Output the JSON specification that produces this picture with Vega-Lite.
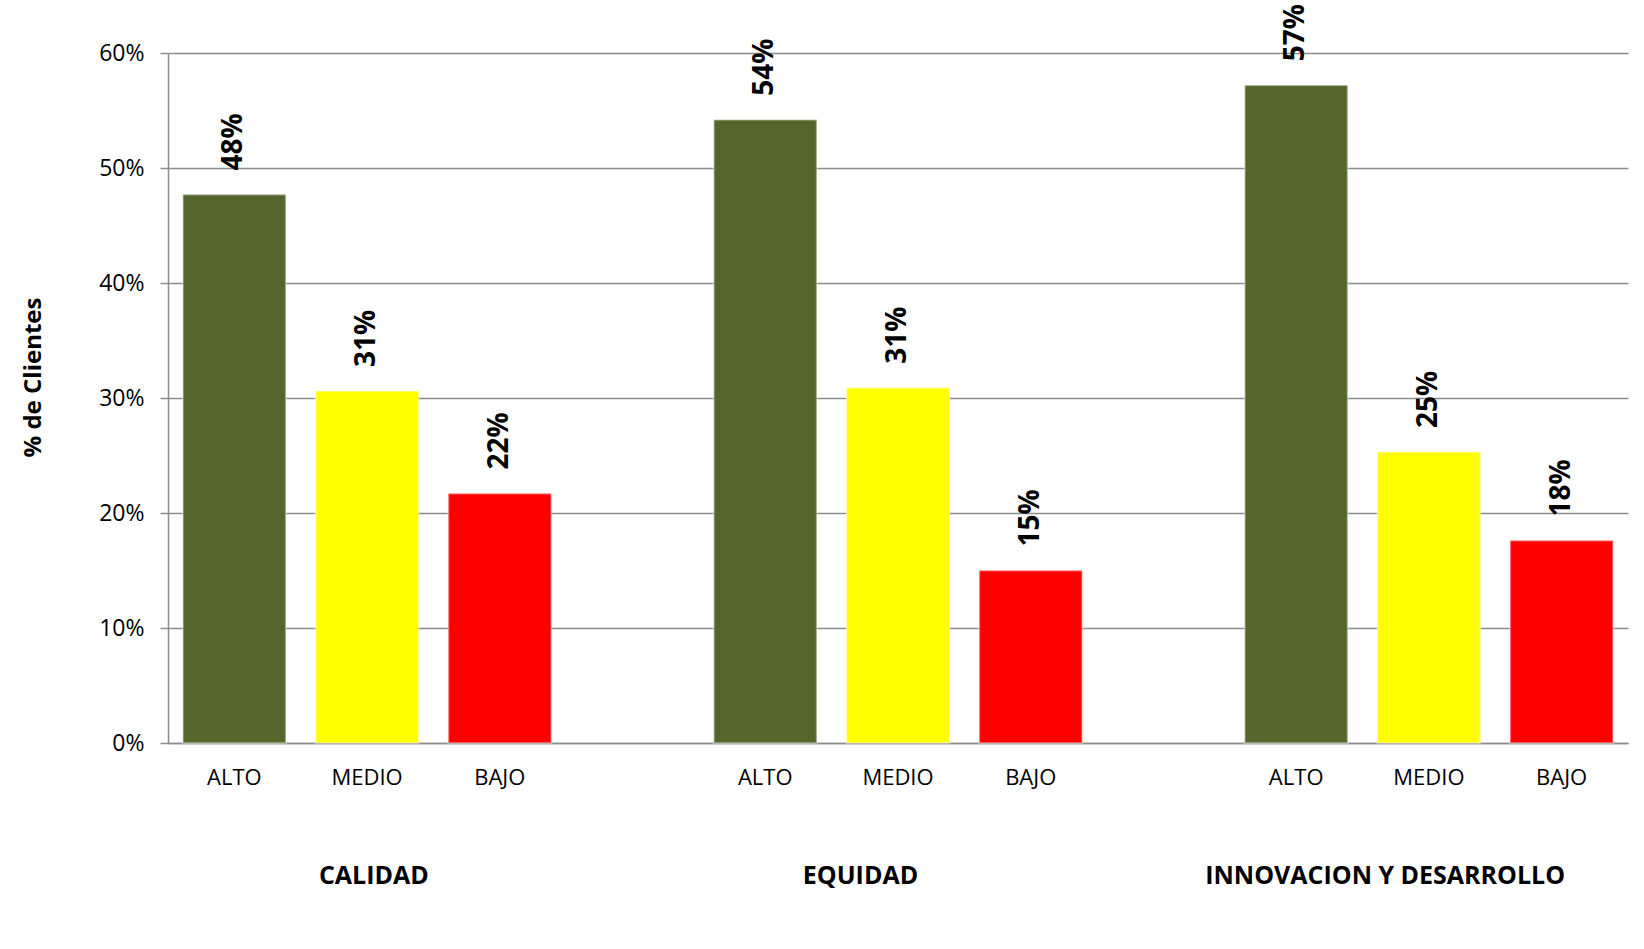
{
  "$schema": "https://vega.github.io/schema/vega-lite/v6.json",
  "width": 1460,
  "height": 690,
  "autosize": {"type": "none"},
  "padding": {"left": 168, "top": 53, "right": 16, "bottom": 206},
  "background": "white",
  "config": {
    "view": {"stroke": null},
    "font": "Open Sans",
    "axis": {
      "domainColor": "#8c8c8c",
      "domainWidth": 1.5,
      "gridColor": "#8c8c8c",
      "gridWidth": 1.5,
      "tickColor": "#8c8c8c",
      "tickWidth": 1.5,
      "labelColor": "#000000",
      "labelFont": "Open Sans",
      "titleColor": "#000000",
      "titleFont": "Open Sans"
    }
  },
  "datasets": {
    "barras": [
      {"grupo": "CALIDAD", "nivel": "ALTO", "cat": "CALIDAD-ALTO", "valor": 0.477},
      {"grupo": "CALIDAD", "nivel": "MEDIO", "cat": "CALIDAD-MEDIO", "valor": 0.306},
      {"grupo": "CALIDAD", "nivel": "BAJO", "cat": "CALIDAD-BAJO", "valor": 0.217},
      {"grupo": "EQUIDAD", "nivel": "ALTO", "cat": "EQUIDAD-ALTO", "valor": 0.542},
      {"grupo": "EQUIDAD", "nivel": "MEDIO", "cat": "EQUIDAD-MEDIO", "valor": 0.309},
      {"grupo": "EQUIDAD", "nivel": "BAJO", "cat": "EQUIDAD-BAJO", "valor": 0.15},
      {"grupo": "INNOVACION Y DESARROLLO", "nivel": "ALTO", "cat": "INNOVACION Y DESARROLLO-ALTO", "valor": 0.572},
      {"grupo": "INNOVACION Y DESARROLLO", "nivel": "MEDIO", "cat": "INNOVACION Y DESARROLLO-MEDIO", "valor": 0.253},
      {"grupo": "INNOVACION Y DESARROLLO", "nivel": "BAJO", "cat": "INNOVACION Y DESARROLLO-BAJO", "valor": 0.176}
    ],
    "grupos": [
      {"grupo": "CALIDAD"},
      {"grupo": "EQUIDAD"},
      {"grupo": "INNOVACION Y DESARROLLO"}
    ]
  },
  "layer": [
    {
      "data": {"name": "barras"},
      "layer": [
        {
          "mark": {"type": "bar", "stroke": "white", "strokeOpacity": 0.35, "strokeWidth": 2},
          "encoding": {
            "x": {
              "field": "cat",
              "type": "nominal",
              "sort": null,
              "scale": {
                "domain": ["CALIDAD-ALTO", "CALIDAD-MEDIO", "CALIDAD-BAJO", "gap1", "EQUIDAD-ALTO", "EQUIDAD-MEDIO", "EQUIDAD-BAJO", "gap2", "INNOVACION Y DESARROLLO-ALTO", "INNOVACION Y DESARROLLO-MEDIO", "INNOVACION Y DESARROLLO-BAJO"],
                "paddingInner": 0.224,
                "paddingOuter": 0.112
              },
              "axis": {
                "orient": "bottom",
                "title": null,
                "ticks": false,
                "labelAngle": 0,
                "labelFontSize": 22,
                "labelBaseline": "middle",
                "labelPadding": 34,
                "labelExpr": "indexof(datum.value, 'gap') == 0 ? '' : split(datum.value, '-')[1]"
              }
            },
            "y": {
              "field": "valor",
              "type": "quantitative",
              "scale": {"domain": [0, 0.6], "nice": false},
              "axis": {
                "values": [0, 0.1, 0.2, 0.3, 0.4, 0.5, 0.6],
                "format": ".0%",
                "grid": true,
                "tickSize": 8,
                "labelFontSize": 23,
                "labelPadding": 16,
                "title": "% de Clientes",
                "titleFontSize": 24,
                "titleFontWeight": "bold",
                "titleAngle": -90,
                "titleAlign": "center",
                "titleBaseline": "middle",
                "titleX": -135,
                "titleY": 324
              }
            },
            "color": {
              "field": "nivel",
              "type": "nominal",
              "scale": {"domain": ["ALTO", "MEDIO", "BAJO"], "range": ["#55662D", "#FFFF00", "#FF0000"]},
              "legend": null
            }
          }
        },
        {
          "mark": {"type": "text", "angle": -90, "align": "left", "baseline": "middle", "dx": 24, "fontSize": 28, "fontWeight": "bold", "color": "#000000", "font": "Open Sans"},
          "encoding": {
            "x": {"field": "cat", "type": "nominal", "sort": null},
            "y": {"field": "valor", "type": "quantitative"},
            "text": {"field": "valor", "type": "quantitative", "format": ".0%"}
          }
        }
      ]
    },
    {
      "data": {"name": "grupos"},
      "mark": {"type": "text", "text": "", "opacity": 0},
      "encoding": {
        "x": {
          "field": "grupo",
          "type": "nominal",
          "sort": null,
          "scale": {"domain": ["CALIDAD", "EQUIDAD", "INNOVACION Y DESARROLLO"], "paddingInner": 0, "paddingOuter": 0},
          "axis": {
            "orient": "bottom",
            "title": null,
            "domain": false,
            "ticks": false,
            "grid": false,
            "labelAngle": 0,
            "labelFontSize": 25,
            "labelFontWeight": "bold",
            "labelBaseline": "middle",
            "labelPadding": 132,
            "labelLimit": 0,
            "labelOffset": {"condition": {"test": "datum.value == 'INNOVACION Y DESARROLLO'", "value": 0}, "value": -38}
          }
        }
      }
    }
  ],
  "resolve": {"scale": {"x": "independent"}, "axis": {"x": "independent"}}
}
